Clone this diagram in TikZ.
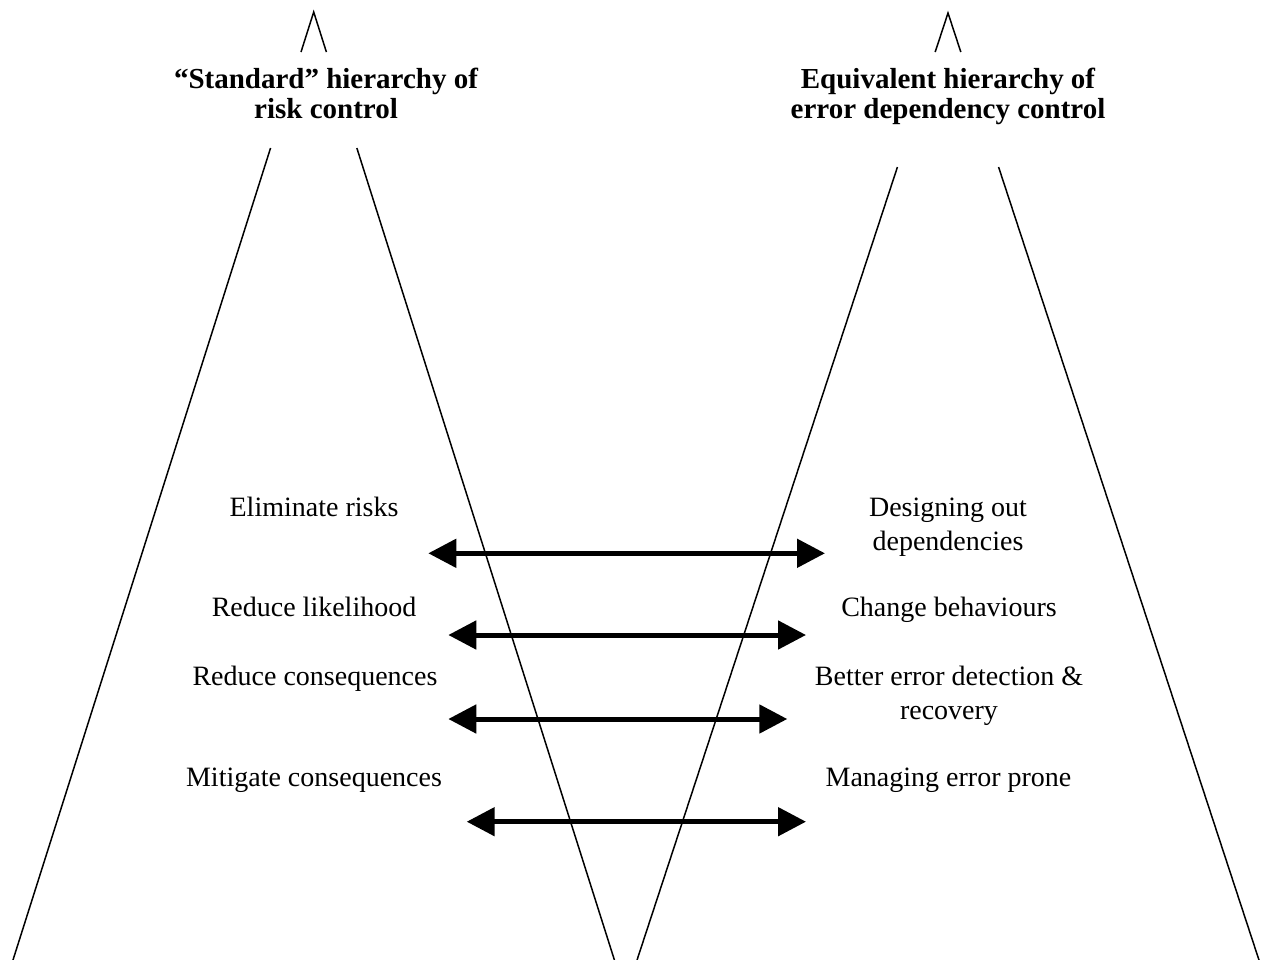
\documentclass[tikz,border=0pt]{standalone}
\usepackage{fontspec}
\setmainfont{Liberation Serif}
\usetikzlibrary{arrows.meta,calc}
\begin{document}
\begin{tikzpicture}[x=1pt,y=-1pt,
  edge/.style={line width=1.5pt},
  twoway/.style={line width=5pt,
    {Triangle[length=28pt,width=28pt]}-{Triangle[length=28pt,width=28pt]}},
  heading/.style={font=\fontsize{29}{30}\selectfont\bfseries,align=center,
    inner sep=0pt,anchor=base},
  item/.style={font=\fontsize{28}{34}\selectfont,align=center,
    inner sep=0pt,anchor=base}]
\useasboundingbox (0,0) rectangle (1263,960);

% left pyramid: "standard" hierarchy
\coordinate (LA) at (313.7,12);
\coordinate (LL) at (11.4,965);
\coordinate (LR) at (616.0,965);
\draw[edge] ($(LA)!0.042!(LL)$) -- (LA) -- ($(LA)!0.042!(LR)$);
\draw[edge] ($(LA)!0.1427!(LL)$) -- (LL);
\draw[edge] ($(LA)!0.1427!(LR)$) -- (LR);

% right pyramid: error dependency hierarchy
\coordinate (RA) at (948,13);
\coordinate (RL) at (635.4,965);
\coordinate (RR) at (1260.6,965);
\draw[edge] ($(RA)!0.041!(RL)$) -- (RA) -- ($(RA)!0.041!(RR)$);
\draw[edge] ($(RA)!0.1618!(RL)$) -- (RL);
\draw[edge] ($(RA)!0.1618!(RR)$) -- (RR);

% headings (base anchor sits on the last line)
\node[heading] (lhead) at (326,118.3) {“Standard” hierarchy of\\risk control};
\node[heading] (rhead) at (948,118.3) {Equivalent hierarchy of\\error dependency control};

% left column
\node[item] (l1) at (314,516) {Eliminate risks};
\node[item] (l2) at (314,616.7) {Reduce likelihood};
\node[item] (l3) at (315,685) {Reduce consequences};
\node[item] (l4) at (314,786.7) {Mitigate consequences};

% right column
\node[item] (r1) at (948,550) {Designing out\\dependencies};
\node[item] (r2) at (949,616.7) {Change behaviours};
\node[item] (r3) at (949,719) {Better error detection \&\\recovery};
\node[item] (r4) at (948.5,786.7) {Managing error prone};

% correspondence arrows
\coordinate (a1l) at (428.3,553.3); \coordinate (a1r) at (825,553.3);
\coordinate (a2l) at (448.3,635);   \coordinate (a2r) at (806,635);
\coordinate (a3l) at (448.3,719);   \coordinate (a3r) at (787.3,719);
\coordinate (a4l) at (466.7,821.7); \coordinate (a4r) at (806,821.7);
\draw[twoway] (a1l) -- (a1r);
\draw[twoway] (a2l) -- (a2r);
\draw[twoway] (a3l) -- (a3r);
\draw[twoway] (a4l) -- (a4r);
\end{tikzpicture}
\end{document}
